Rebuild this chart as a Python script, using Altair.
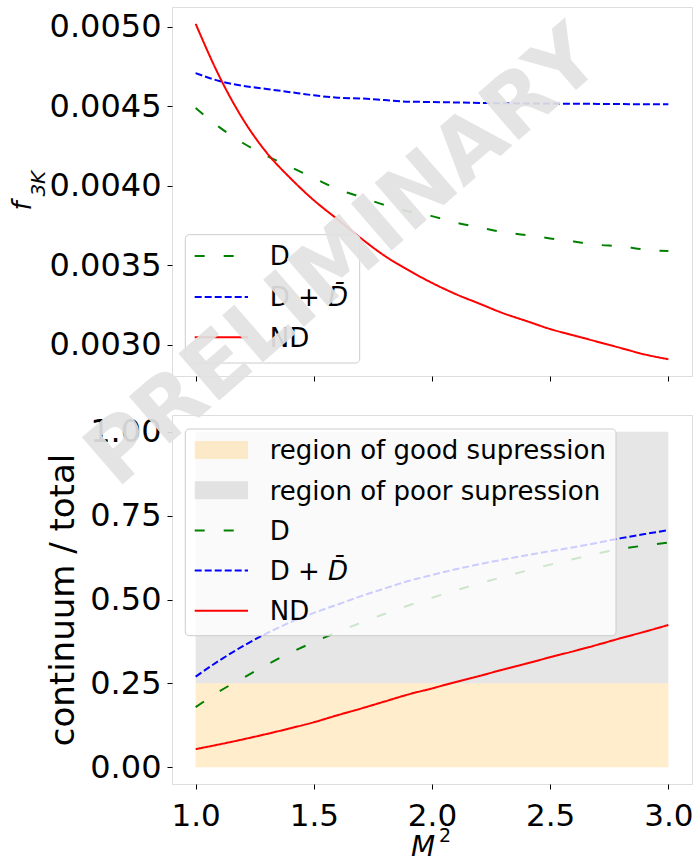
import altair as alt
import pandas as pd

# ---- data -------------------------------------------------------------
m2 = [1.0, 1.1, 1.2, 1.3, 1.4, 1.5, 1.6, 1.7, 1.8, 1.9, 2.0,
      2.1, 2.2, 2.3, 2.4, 2.5, 2.6, 2.7, 2.8, 2.9, 3.0]

f3k_d = [0.00449, 0.00437, 0.00427, 0.00419, 0.00412, 0.00405, 0.00398,
         0.00393, 0.00388, 0.00384, 0.00381, 0.00377, 0.00374, 0.00371,
         0.00369, 0.00367, 0.00365, 0.00363, 0.00362, 0.00360, 0.00359]
f3k_ddbar = [0.00471, 0.00466, 0.00463, 0.00461, 0.00459, 0.00457, 0.004555,
             0.00455, 0.00454, 0.00453, 0.004528, 0.004525, 0.004522, 0.00452,
             0.004519, 0.004518, 0.004517, 0.004516, 0.004515, 0.004514, 0.004514]
f3k_nd = [0.00502, 0.00469, 0.00442, 0.00421, 0.00405, 0.00391, 0.00379,
          0.00367, 0.00356, 0.00347, 0.00339, 0.00332, 0.00326, 0.00320,
          0.00315, 0.00310, 0.00306, 0.00302, 0.00298, 0.00294, 0.00291]

ratio_d = [0.179, 0.226, 0.266, 0.305, 0.341, 0.373, 0.403, 0.431, 0.457,
           0.482, 0.505, 0.527, 0.548, 0.567, 0.586, 0.604, 0.621, 0.637,
           0.651, 0.661, 0.670]
ratio_ddbar = [0.270, 0.318, 0.361, 0.399, 0.432, 0.460, 0.485, 0.510, 0.533,
               0.555, 0.573, 0.590, 0.605, 0.619, 0.632, 0.644, 0.656, 0.669,
               0.683, 0.695, 0.707]
ratio_nd = [0.054, 0.068, 0.083, 0.099, 0.116, 0.134, 0.155, 0.175, 0.196,
            0.217, 0.235, 0.254, 0.272, 0.291, 0.309, 0.328, 0.346, 0.365,
            0.385, 0.404, 0.424]

series_names = ["D", "D + D\u0304", "ND"]
series_colors = ["green", "blue", "red"]
series_dashes = [[10, 19], [7, 3], [1, 0]]

region_names = ["region of good supression", "region of poor supression"]
region_lo = [0.0, 0.25]
region_hi = [0.25, 1.0]
region_colors = ["orange", "gray"]
region_x = [1.0, 3.0]

x_ticks = [1.0, 1.5, 2.0, 2.5, 3.0]
top_ticks = [0.0030, 0.0035, 0.0040, 0.0045, 0.0050]
bottom_ticks = [0.0, 0.25, 0.5, 0.75, 1.0]

# ---- tables -----------------------------------------------------------
def long_table(columns):
    rows = []
    for name, values in zip(series_names, columns):
        for x, v in zip(m2, values):
            rows.append({"M2": x, "value": v, "series": name})
    return pd.DataFrame(rows)

top_df = long_table([f3k_d, f3k_ddbar, f3k_nd])
bottom_df = long_table([ratio_d, ratio_ddbar, ratio_nd])
regions_df = pd.DataFrame({"name": region_names, "lo": region_lo, "hi": region_hi,
                           "x0": region_x[0], "x1": region_x[1]})

FONT = "DejaVu Sans"
W, H = 520, 369
YLAB = 32
XLAB = 31
LEG = 26

def padded(lo, hi, frac=0.05):
    span = hi - lo
    return [lo - frac * span, hi + frac * span]

x_dom = padded(min(m2), max(m2))
top_vals = f3k_d + f3k_ddbar + f3k_nd
top_dom = padded(min(top_vals), max(top_vals))
bot_dom = padded(0.0, 1.0)

color_scale = alt.Scale(domain=series_names, range=series_colors)
dash_scale = alt.Scale(domain=series_names, range=series_dashes)
x_scale = alt.Scale(domain=x_dom, nice=False, zero=False)

def x_enc(show_labels):
    return alt.X("M2:Q", scale=x_scale,
                 axis=alt.Axis(values=x_ticks, format=".1f", labels=show_labels,
                               title=None, grid=False, domain=False,
                               tickSize=5, tickColor="black", tickWidth=1,
                               labelFontSize=XLAB, labelFont=FONT, labelColor="black",
                               labelPadding=12, labelFlush=False))

def lines(df, y_dom, y_ticks, y_fmt, show_labels):
    return alt.Chart(df).mark_line(strokeWidth=2, clip=True, interpolate="monotone").encode(
        x=x_enc(show_labels),
        y=alt.Y("value:Q", scale=alt.Scale(domain=y_dom, nice=False, zero=False),
                axis=alt.Axis(values=y_ticks, format=y_fmt, title=None, grid=False,
                              domain=False, tickSize=5, tickColor="black",
                              tickWidth=1, labelFontSize=YLAB, labelFont=FONT,
                              labelColor="black", labelPadding=6,
                              labelFlush=False, labelOverlap=False)),
        color=alt.Color("series:N", scale=color_scale, legend=None),
        strokeDash=alt.StrokeDash("series:N", scale=dash_scale, legend=None),
        detail="series:N",
    )

one = alt.Data(values=[{}])

def text_at(txt, x, y, size, angle=0, align="left", baseline="alphabetic",
            style="normal", weight="normal", color="black", opacity=1.0):
    return alt.Chart(one).mark_text(
        text=txt, font=FONT, fontSize=size, angle=angle, align=align,
        baseline=baseline, fontStyle=style, fontWeight=weight,
        color=color, opacity=opacity,
    ).encode(x=alt.value(x), y=alt.value(y))

def legend_box(x0, x1, y0, y1):
    return alt.Chart(one).mark_rect(
        fill="white", fillOpacity=0.8, stroke="#cccccc", strokeWidth=1,
        cornerRadius=4,
    ).encode(x=alt.value(x0), x2=alt.value(x1), y=alt.value(y0), y2=alt.value(y1))

def legend_line(i, y):
    return alt.Chart(one).mark_rule(
        color=series_colors[i], strokeWidth=2, strokeDash=series_dashes[i],
    ).encode(x=alt.value(22.7), x2=alt.value(76), y=alt.value(y))

def legend_patch(i, y):
    return alt.Chart(one).mark_rect(
        fill=region_colors[i], fillOpacity=0.2,
    ).encode(x=alt.value(22.7), x2=alt.value(76),
             y=alt.value(y - 9), y2=alt.value(y + 9))

def legend_label(i, y):
    base = y + 0.36 * LEG
    if i == 1:
        return (text_at("D + ", 97.7, base, LEG)
                + text_at("D\u0304", 156, base, LEG, style="italic"))
    return text_at(series_names[i], 97.7, base, LEG)

# ---- top panel --------------------------------------------------------
top_rows = [249.0, 290.0, 330.2]
top_layers = [lines(top_df, top_dom, top_ticks, ".4f", False),
              legend_box(13.3, 187.7, 227.7, 356)]
for i, y in enumerate(top_rows):
    top_layers += [legend_line(i, y), legend_label(i, y)]
top_layers += [text_at("f", -141, 199, 26, angle=270, align="center", style="italic"),
               text_at("3K", -127, 176.7, 20, angle=270, align="center", style="italic")]
top = alt.layer(*top_layers).properties(width=W, height=H)

# ---- bottom panel -----------------------------------------------------
region_layers = [
    alt.Chart(regions_df).transform_filter(alt.datum.name == name)
    .mark_rect(fill=col, opacity=0.2)
    .encode(x=alt.X("x0:Q", scale=x_scale), x2="x1:Q",
            y=alt.Y("lo:Q"), y2="hi:Q")
    for name, col in zip(region_names, region_colors)
]
bot_rows = [35.0, 75.2, 115.4, 155.6, 195.8]
bot_layers = region_layers + [lines(bottom_df, bot_dom, bottom_ticks, ".2f", True),
                              legend_box(13.3, 444, 14, 220.7)]
for i in range(2):
    y = bot_rows[i]
    bot_layers += [legend_patch(i, y), text_at(region_names[i], 97.7, y + 0.36 * LEG, LEG)]
for i in range(3):
    y = bot_rows[i + 2]
    bot_layers += [legend_line(i, y), legend_label(i, y)]
bot_layers += [
    text_at("continuum / total", -98, 185, 34, angle=270, align="center"),
    text_at("M", 239, 441, 28, style="italic"),
    text_at("2", 267, 427, 19),
    text_at("PRELIMINARY", 189, -138, 85, angle=319, align="center",
            weight="bold", color="#e2e2e2", opacity=0.92),
]
bottom = alt.layer(*bot_layers).properties(width=W, height=H)

chart = alt.vconcat(top, bottom, spacing=39, bounds="flush").properties(
    padding={"left": 9, "top": 6, "right": 0, "bottom": 0},
).configure_view(stroke="black", strokeWidth=1.2).configure(background="white")

chart.save("out.html", embed_options={"renderer": "svg", "actions": False})
